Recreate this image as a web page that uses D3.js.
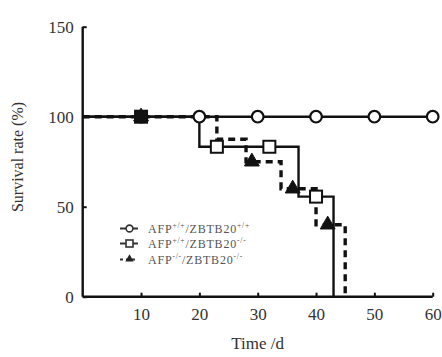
<!DOCTYPE html>
<html><head><meta charset="utf-8">
<script src="https://cdn.jsdelivr.net/npm/d3@7"></script>
<style>body{margin:0;background:#fff}svg{display:block}</style>
</head><body>
<svg id="c" width="442" height="357"></svg>
<script>
// ---- data ----
const xTicks = [10, 20, 30, 40, 50, 60];
const yTicks = [0, 50, 100, 150];
const xLabel = "Time /d";
const yLabel = "Survival rate (%)";

// series 1: AFP+/+/ZBTB20+/+ (circles, solid)
const s1Times = [0, 60];
const s1Values = [100, 100];
const s1MarkTimes = [10, 20, 30, 40, 50, 60];
const s1MarkValues = [100, 100, 100, 100, 100, 100];

// series 2: AFP+/+/ZBTB20-/- (squares, solid)
const s2Times = [0, 20, 37, 43];
const s2Values = [100, 83.3, 55.6, 0];
const s2MarkTimes = [10, 23, 32, 40];
const s2MarkValues = [100, 83.3, 83.3, 55.6];

// series 3: AFP-/-/ZBTB20-/- (triangles, dashed)
const s3Times = [0, 23, 28, 34, 40, 45];
const s3Values = [100, 87.5, 75, 60, 40, 0];
const s3MarkTimes = [10, 29, 36, 42];
const s3MarkValues = [100, 75, 60, 40];

const legendNames = [
  {base: "AFP", sup1: "+/+", mid: "/ZBTB20", sup2: "+/+"},
  {base: "AFP", sup1: "+/+", mid: "/ZBTB20", sup2: "-/-"},
  {base: "AFP", sup1: "-/-", mid: "/ZBTB20", sup2: "-/-"}
];

// ---- chart ----
const svg = d3.select("#c");
const font = "'Liberation Serif', 'Times New Roman', serif";
const x = d3.scaleLinear().domain([0, 60]).range([82.7, 432.7]);
const y = d3.scaleLinear().domain([0, 150]).range([296.7, 26.7]);

const zip = (t, v) => t.map((d, i) => [d, v[i]]);
const line = d3.line().x(d => x(d[0])).y(d => y(d[1])).curve(d3.curveStepAfter);

// y axis
const ya = svg.append("g").attr("transform", `translate(${x(0)},0)`)
  .call(d3.axisLeft(y).tickValues(yTicks).tickSize(-4).tickPadding(9).tickSizeOuter(0));
ya.select(".domain").attr("stroke", "#111").attr("stroke-width", 2.4).attr("d", `M0,${y(150)}V${y(0)}`);
ya.selectAll(".tick line").attr("stroke", "#111").attr("stroke-width", 2);
ya.selectAll("text").attr("font-family", font).attr("font-size", 17).attr("fill", "#333");

// x axis
const xa = svg.append("g").attr("transform", `translate(0,${y(0)})`)
  .call(d3.axisBottom(x).tickValues(xTicks).tickSize(-4).tickPadding(11).tickSizeOuter(0));
xa.select(".domain").attr("stroke", "#111").attr("stroke-width", 2.4).attr("d", `M${x(0)},0H${x(60)}`);
xa.selectAll(".tick line").attr("stroke", "#111").attr("stroke-width", 2);
xa.selectAll("text").attr("font-family", font).attr("font-size", 17).attr("fill", "#333");

// axis titles
svg.append("text").attr("x", x(30)).attr("y", 349).attr("text-anchor", "middle")
  .attr("font-family", font).attr("font-size", 17).attr("fill", "#333").text(xLabel);
svg.append("text").attr("transform", `translate(23,157) rotate(-90)`).attr("text-anchor", "middle")
  .attr("font-family", font).attr("font-size", 16).attr("fill", "#333").text(yLabel);

// lines
const g = svg.append("g");
g.append("path").attr("d", line(zip(s1Times, s1Values))).attr("fill", "none").attr("stroke", "#111").attr("stroke-width", 2.4);
g.append("path").attr("d", line(zip(s2Times, s2Values))).attr("fill", "none").attr("stroke", "#111").attr("stroke-width", 2.4);
g.append("path").attr("d", line(zip(s3Times, s3Values))).attr("fill", "none").attr("stroke", "#111").attr("stroke-width", 3.4).attr("stroke-dasharray", "7,5");

// markers
function circleM(sel, cx, cy) {
  sel.append("circle").attr("cx", cx).attr("cy", cy).attr("r", 5.8).attr("fill", "#fff").attr("stroke", "#111").attr("stroke-width", 2.2);
}
function squareM(sel, cx, cy) {
  sel.append("rect").attr("x", cx - 6).attr("y", cy - 6).attr("width", 12).attr("height", 12).attr("fill", "#fff").attr("stroke", "#111").attr("stroke-width", 2);
}
const tri = d3.symbol().type(d3.symbolTriangle).size(95);
function triM(sel, cx, cy) {
  sel.append("path").attr("d", tri()).attr("transform", `translate(${cx},${cy})`).attr("fill", "#111").attr("stroke", "#111").attr("stroke-width", 1);
}
zip(s1MarkTimes, s1MarkValues).forEach(d => circleM(g, x(d[0]), y(d[1])));
zip(s2MarkTimes, s2MarkValues).forEach(d => squareM(g, x(d[0]), y(d[1])));
zip(s3MarkTimes, s3MarkValues).forEach(d => triM(g, x(d[0]), y(d[1])));
// overlapping markers at t=10 appear as a solid block
g.append("rect").attr("x", x(10) - 6).attr("y", y(100) - 6).attr("width", 12).attr("height", 12).attr("fill", "#111");

// legend
const leg = svg.append("g");
const rows = [228.5, 243.5, 259.5];
const legTri = d3.symbol().type(d3.symbolTriangle).size(30);
rows.forEach((ry, i) => {
  const lg = leg.append("g");
  lg.append("line").attr("x1", 120).attr("x2", 138).attr("y1", ry).attr("y2", ry)
    .attr("stroke", "#333").attr("stroke-width", i === 2 ? 2.2 : 2).attr("stroke-dasharray", i === 2 ? "3,3" : null);
  if (i === 2) {
    lg.append("path").attr("d", legTri()).attr("transform", `translate(129.5,${ry - 0.5})`).attr("fill", "#222");
  } else if (i === 1) {
    lg.append("rect").attr("x", 126).attr("y", ry - 3.5).attr("width", 7).attr("height", 7).attr("fill", "#fff").attr("stroke", "#333").attr("stroke-width", 1.6);
  } else {
    lg.append("circle").attr("cx", 129.5).attr("cy", ry).attr("r", 3.4).attr("fill", "#fff").attr("stroke", "#333").attr("stroke-width", 1.6);
  }
  const n = legendNames[i];
  const t = lg.append("text").attr("x", 148).attr("y", ry + 4).attr("font-family", font).attr("font-size", 12).attr("fill", "#555").attr("letter-spacing", 0.8);
  t.append("tspan").text(n.base);
  t.append("tspan").attr("font-size", 7.5).attr("dy", -4.5).text(n.sup1);
  t.append("tspan").attr("dy", 4.5).text(n.mid);
  t.append("tspan").attr("font-size", 7.5).attr("dy", -4.5).text(n.sup2);
});
</script>
</body></html>
